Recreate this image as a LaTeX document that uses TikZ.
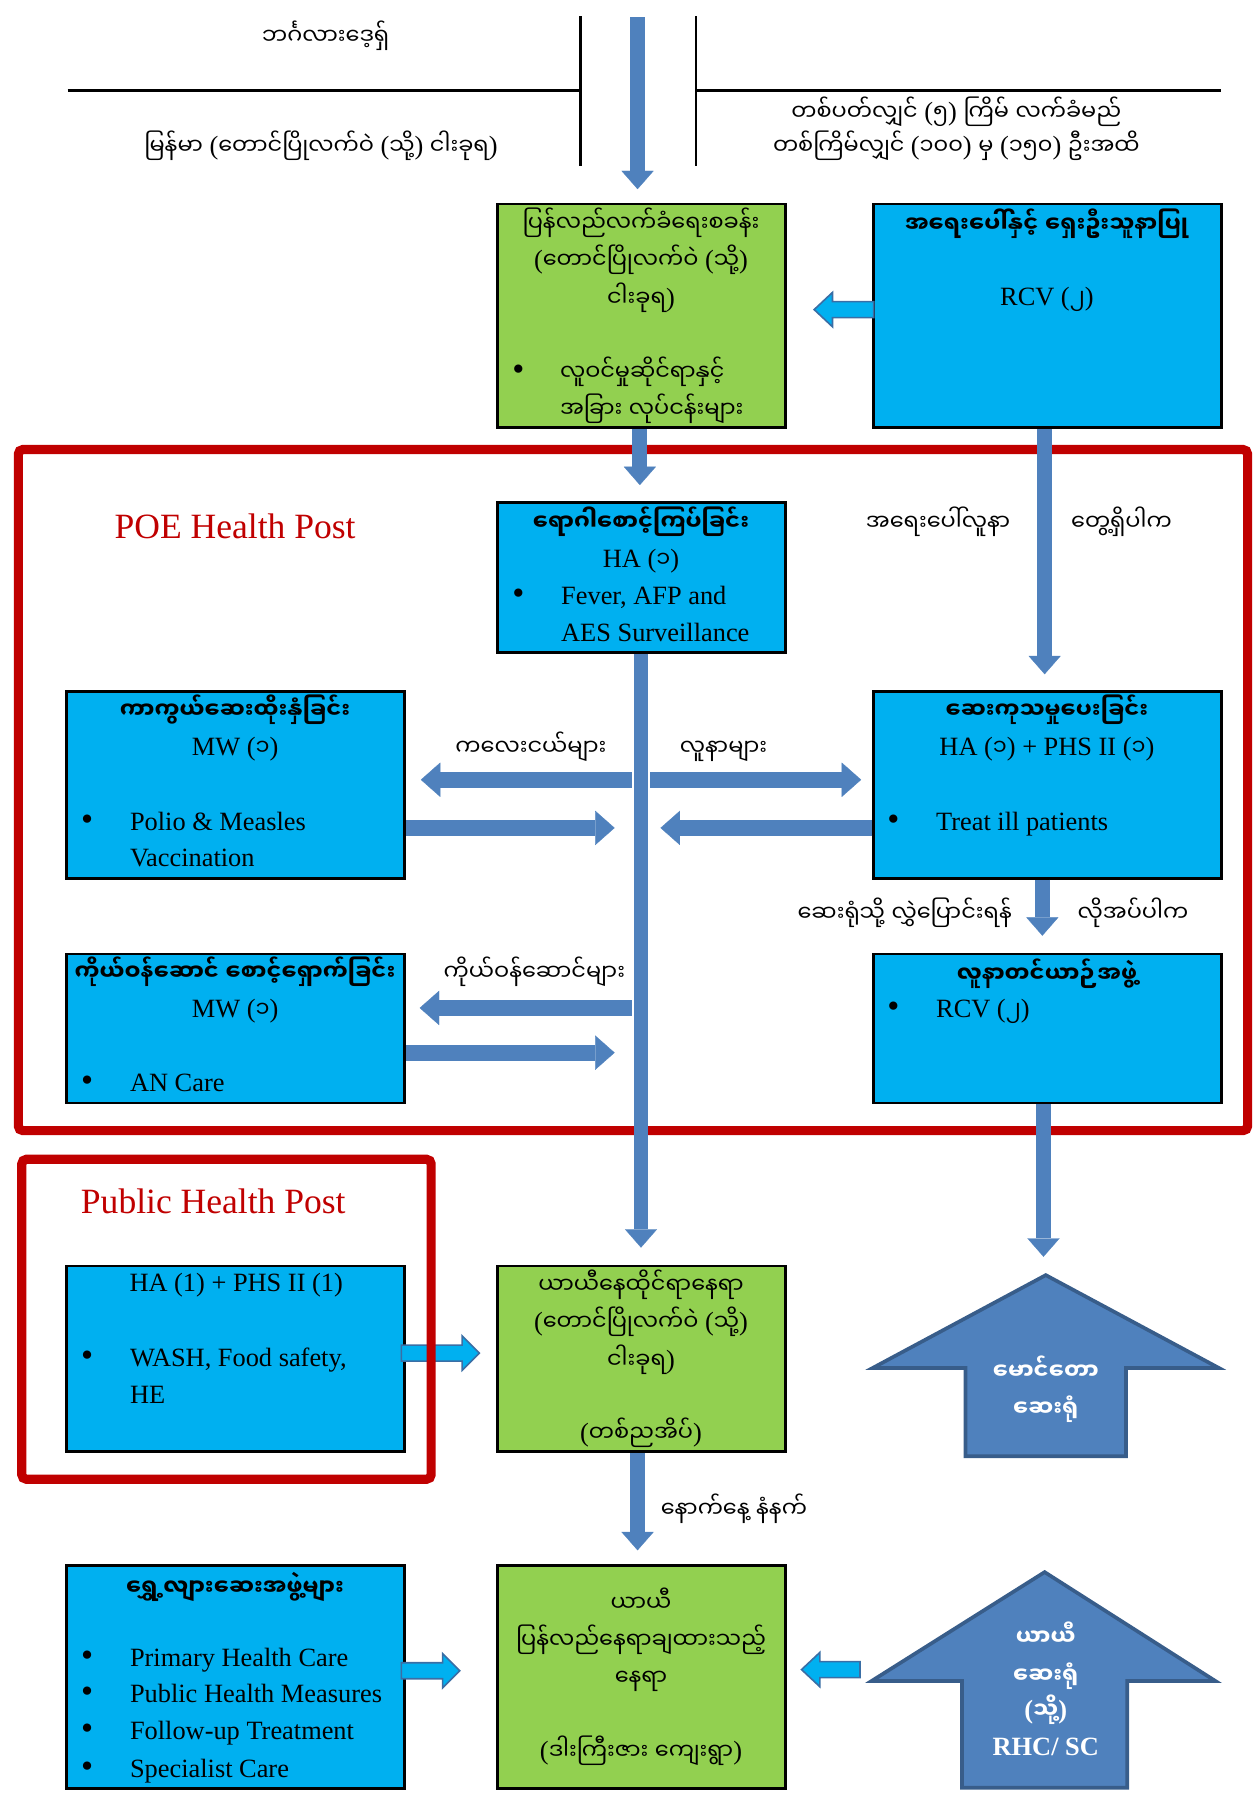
\documentclass[tikz,border=0pt]{standalone}
\usepackage{fontspec}
\setmainfont{Liberation Serif}
\newfontfamily\myfont[Script=Myanmar,Scale=0.85]{Noto Sans Myanmar UI}
\newcommand\my[1]{{\myfont #1}}
\newcommand\myb[1]{{\myfont\bfseries #1}}
\newcommand\bul{{\fontsize{15}{15}\selectfont •}}
\usetikzlibrary{arrows.meta,calc,fit}
\definecolor{boxblue}{HTML}{00B0F0}
\definecolor{boxgreen}{HTML}{92D050}
\definecolor{arrblue}{HTML}{4F81BD}
\definecolor{arrdark}{HTML}{385D8A}
\definecolor{framered}{HTML}{C00000}
\definecolor{lbline}{HTML}{3A6EA5}
\begin{document}
\begin{tikzpicture}[x=0.5pt,y=-0.5pt,
  font=\fontsize{11.5}{14}\selectfont,
  bbox/.style={draw=black, line width=1.2pt, fill=boxblue, inner sep=0pt},
  gbox/.style={draw=black, line width=1.2pt, fill=boxgreen, inner sep=0pt},
  tx/.style={anchor=base, inner sep=0pt, yshift=-3.5pt},
  txl/.style={anchor=base west, inner sep=0pt, yshift=-3.5pt},
  harr/.style={draw=arrblue, line width=7pt, -{Triangle[width=15pt,length=8.5pt,line width=0.1pt]}},
  varr/.style={draw=arrblue, line width=6.5pt, -{Triangle[width=14pt,length=8pt,line width=0.1pt]}},
  lbarr/.style={fill=boxblue, draw=lbline, line width=0.7pt, line join=miter},
  bigarr/.style={fill=arrblue, draw=arrdark, line width=1.6pt},
  redframe/.style={draw=framered, line width=4pt, rounded corners=2pt, inner sep=0pt},
  redtitle/.style={anchor=base, inner sep=0pt, yshift=-5pt, text=framered, font=\fontsize{15.5}{18}\selectfont},
  wtx/.style={tx, text=white, font=\fontsize{11.5}{14}\selectfont\bfseries},
  thinline/.style={draw=black, line width=1.2pt}
]
\useasboundingbox (0,0) rectangle (1094,1568);

% ---------- top header ----------
\coordinate (ln1a) at (59,79);  \coordinate (ln1b) at (506,79);
\coordinate (ln2a) at (607,79); \coordinate (ln2b) at (1065,79);
\coordinate (v1a) at (506,14);  \coordinate (v1b) at (506,145);
\coordinate (v2a) at (607,14);  \coordinate (v2b) at (607,145);
\draw[thinline] (ln1a) -- (ln1b) (ln2a) -- (ln2b) (v1a) -- (v1b) (v2a) -- (v2b);
\node[tx] (bang) at (284,32) {\my{ဘင်္ဂလားဒေ့ရှ်}};
\node[tx] (mm) at (280,128) {\my{မြန်မာ} (\my{တောင်ပြိုလက်ဝဲ} (\my{သို့}) \my{ငါးခုရ})};
\node[tx] (r1) at (834,98) {\my{တစ်ပတ်လျှင်} (\my{၅}) \my{ကြိမ်} \my{လက်ခံမည်}};
\node[tx] (r2) at (834,128) {\my{တစ်ကြိမ်လျှင်} (\my{၁၀၀}) \my{မှ} (\my{၁၅၀}) \my{ဦးအထိ}};

% ---------- frames ----------
\node[redframe, fit={(16,392) (1088,986)}] (poe) {};
\node[redtitle] (poet) at (205,460) {POE Health Post};

% ---------- boxes ----------
\node[gbox, fit={(434,178) (685,373)}] (g1) {};
\node[bbox, fit={(762,178) (1065,373)}] (b1) {};
\node[bbox, fit={(434,438) (685,569)}] (surv) {};
\node[bbox, fit={(58,603) (353,766)}] (vac) {};
\node[bbox, fit={(762,603) (1065,766)}] (treat) {};
\node[bbox, fit={(58,832) (353,962)}] (anc) {};
\node[bbox, fit={(762,832) (1065,962)}] (amb) {};
\node[bbox, fit={(58,1104) (353,1266)}] (ph) {};
\node[gbox, fit={(434,1104) (685,1266)}] (g2) {};
\node[bbox, fit={(58,1365) (353,1560)}] (mob) {};
\node[gbox, fit={(434,1365) (685,1560)}] (g3) {};

% ---------- box texts ----------
\node[tx] (g1a) at (559,195) {\my{ပြန်လည်လက်ခံရေးစခန်း}};
\node[tx] (g1b) at (559,227) {(\my{တောင်ပြိုလက်ဝဲ} (\my{သို့})};
\node[tx] (g1c) at (559,260) {\my{ငါးခုရ})};
\node[tx] (g1d) at (452,325) {\bul};
\node[txl] (g1e) at (488,325) {\my{လူဝင်မှုဆိုင်ရာနှင့်}};
\node[txl] (g1f) at (488,357) {\my{အခြား} \my{လုပ်ငန်းများ}};

\node[tx] (b1a) at (913,196) {\myb{အရေးပေါ်နှင့်} \myb{ရှေးဦးသူနာပြု}};
\node[tx] (b1b) at (913,259) {RCV (\my{၂})};

\node[tx] (sva) at (559,456) {\myb{ရောဂါစောင့်ကြပ်ခြင်း}};
\node[tx] (svb) at (559,488) {HA (\my{၁})};
\node[tx] (svc) at (452,520) {\bul};
\node[txl] (svd) at (489,520) {Fever, AFP and};
\node[txl] (sve) at (489,552) {AES Surveillance};

\node[tx] (em1) at (818,456) {\my{အရေးပေါ်လူနာ}};
\node[tx] (em2) at (978,456) {\my{တွေ့ရှိပါက}};

\node[tx] (vca) at (205,620) {\myb{ကာကွယ်ဆေးထိုးနှံခြင်း}};
\node[tx] (vcb) at (205,652) {MW (\my{၁})};
\node[tx] (vcc) at (76,717) {\bul};
\node[txl] (vcd) at (113,717) {Polio \& Measles};
\node[txl] (vce) at (113,749) {Vaccination};

\node[tx] (tra) at (913,620) {\myb{ဆေးကုသမှုပေးခြင်း}};
\node[tx] (trb) at (913,652) {HA (\my{၁}) + PHS II (\my{၁})};
\node[tx] (trc) at (779,717) {\bul};
\node[txl] (trd) at (816,717) {Treat ill patients};

\node[tx] (lb1) at (463,652) {\my{ကလေးငယ်များ}};
\node[tx] (lb2) at (631,652) {\my{လူနာများ}};
\node[tx] (lb3) at (789,797) {\my{ဆေးရုံသို့} \my{လွှဲပြောင်းရန်}};
\node[tx] (lb4) at (988,797) {\my{လိုအပ်ပါက}};
\node[tx] (lb5) at (466,848) {\my{ကိုယ်ဝန်ဆောင်များ}};

\node[tx] (ana) at (205,848) {\myb{ကိုယ်ဝန်ဆောင်} \myb{စောင့်ရှောက်ခြင်း}};
\node[tx] (anb) at (205,880) {MW (\my{၁})};
\node[tx] (anc1) at (76,945) {\bul};
\node[txl] (anc2) at (113,945) {AN Care};

\node[tx] (ama) at (913,850) {\myb{လူနာတင်ယာဉ်အဖွဲ့}};
\node[tx] (amb1) at (779,880) {\bul};
\node[txl] (amb2) at (816,880) {RCV (\my{၂})};

\node[tx] (pha) at (206,1119) {HA (1) + PHS II (1)};
\node[tx] (phb) at (76,1185) {\bul};
\node[txl] (phc) at (113,1185) {WASH, Food safety,};
\node[txl] (phd) at (113,1217) {HE};

\node[tx] (g2a) at (559,1121) {\my{ယာယီနေထိုင်ရာနေရာ}};
\node[tx] (g2b) at (559,1153) {(\my{တောင်ပြိုလက်ဝဲ} (\my{သို့})};
\node[tx] (g2c) at (559,1186) {\my{ငါးခုရ})};
\node[tx] (g2d) at (559,1250) {(\my{တစ်ညအိပ်})};

\node[tx] (nx) at (640,1316) {\my{နောက်နေ့} \my{နံနက်}};

\node[tx] (mba) at (205,1384) {\myb{ရွှေ့လျားဆေးအဖွဲ့များ}};
\foreach \yy/\tt [count=\i] in {1446/Primary Health Care,1478/Public Health Measures,1510/Follow-up Treatment,1543/Specialist Care}{
  \node[tx] (mbb\i) at (76,\yy) {\bul};
  \node[txl] (mbt\i) at (113,\yy) {\tt};
}

\node[tx] (g3a) at (559,1398) {\my{ယာယီ}};
\node[tx] (g3b) at (559,1431) {\my{ပြန်လည်နေရာချထားသည့်}};
\node[tx] (g3c) at (559,1463) {\my{နေရာ}};
\node[tx] (g3d) at (559,1527) {(\my{ဒါးကြီးဇား} \my{ကျေးရွာ})};

% ---------- big up arrows ----------
\draw[bigarr] (912,1112) -- (1063,1193) -- (982,1193) -- (982,1270) -- (842,1270) -- (842,1193) -- (761,1193) -- cycle;
\node[wtx] (ua1) at (912,1196) {\myb{မောင်တော}};
\node[wtx] (ua2) at (912,1228) {\myb{ဆေးရုံ}};
\draw[bigarr] (911,1371) -- (1060,1466) -- (983,1466) -- (983,1559) -- (839,1559) -- (839,1466) -- (760,1466) -- cycle;
\node[wtx] (ub1) at (912,1428) {\myb{ယာယီ}};
\node[wtx] (ub2) at (912,1461) {\myb{ဆေးရုံ}};
\node[wtx] (ub3) at (912,1492) {(\myb{သို့})};
\node[wtx] (ub4) at (912,1524) {RHC/ SC};

% ---------- steel-blue connectors ----------
\coordinate (a0s) at (556,15);  \coordinate (a0e) at (556,165);
\coordinate (a1e) at (558,423);
\coordinate (a2e) at (911,588);
\coordinate (a3e) at (559,1088);
\coordinate (a4e) at (910,1096);
\coordinate (a5e) at (909,816);
\coordinate (a6e) at (556,1352);
\draw[varr] (a0s) -- (a0e);
\draw[varr] (a1e |- g1.south) -- (a1e);
\draw[varr] (a2e |- b1.south) -- (a2e);
\draw[varr] (a3e |- surv.south) -- (a3e);
\draw[varr] (a4e |- amb.south) -- (a4e);
\draw[varr] (a5e |- treat.south) -- (a5e);
\draw[varr] (a6e |- g2.south) -- (a6e);

\coordinate (h1s) at (551,680); \coordinate (h1e) at (367,680);
\coordinate (h2s) at (567,680); \coordinate (h2e) at (751,680);
\coordinate (h3e) at (536,722);
\coordinate (h4e) at (576,722);
\coordinate (h5s) at (551,879); \coordinate (h5e) at (366,879);
\coordinate (h6e) at (536,918);
\draw[harr] (h1s) -- (h1e);
\draw[harr] (h2s) -- (h2e);
\draw[harr] (h3e -| vac.east) -- (h3e);
\draw[harr] (h4e -| treat.west) -- (h4e);
\draw[harr] (h5s) -- (h5e);
\draw[harr] (h6e -| anc.east) -- (h6e);

% ---------- light-blue block arrows ----------
\coordinate (la1) at (762,270);
\draw[lbarr] (la1) ++(0,-7) -- ++(-36,0) -- ++(0,-8) -- ++(-16,15) -- ++(16,15) -- ++(0,-8) -- ++(36,0) -- cycle;
\coordinate (la2) at (350,1180);
\draw[lbarr] (la2) ++(0,-7) -- ++(53,0) -- ++(0,-8) -- ++(15,15) -- ++(-15,15) -- ++(0,-8) -- ++(-53,0) -- cycle;
\coordinate (la3) at (350,1457);
\draw[lbarr] (la3) ++(0,-7) -- ++(36,0) -- ++(0,-8) -- ++(15,15) -- ++(-15,15) -- ++(0,-8) -- ++(-36,0) -- cycle;
\coordinate (la4) at (750,1456);
\draw[lbarr] (la4) ++(0,-7) -- ++(-35,0) -- ++(0,-8) -- ++(-16,15) -- ++(16,15) -- ++(0,-8) -- ++(35,0) -- cycle;

% ---------- public health frame ----------
\node[redframe, fit={(19,1011) (376,1290)}] (phf) {};
\node[redtitle] (pht) at (186,1048) {Public Health Post};
\end{tikzpicture}
\end{document}
